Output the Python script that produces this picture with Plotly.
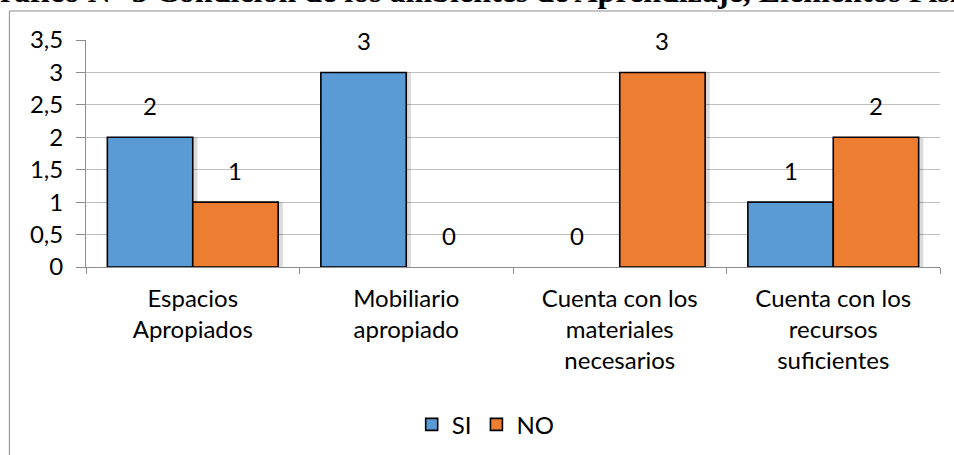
import plotly.graph_objects as go

categories = ["Espacios<br>Apropiados", "Mobiliario<br>apropiado",
              "Cuenta con los<br>materiales<br>necesarios",
              "Cuenta con los<br>recursos<br>suficientes"]
si_values = [2, 3, 0, 1]
no_values = [1, 0, 3, 2]
y_tick_vals = [0, 0.5, 1, 1.5, 2, 2.5, 3, 3.5]
y_tick_text = ["0", "0,5", "1", "1,5", "2", "2,5", "3", "3,5"]
title_text = "Gráfico N° 3 Condición de los ambientes de Aprendizaje, Elementos Físicos"

BLUE = "#5B9BD5"
ORANGE = "#ED7D31"
FONT = "Lato"
FS = 24

def outline(vals):
    return [1.6 if v > 0 else 0 for v in vals]

fig = go.Figure()
# soft shadows
for vals, off in [(si_values, -0.4), (no_values, 0.0)]:
    fig.add_trace(go.Bar(x=categories, y=vals, width=0.4, offset=off + 0.022,
                         marker=dict(color="rgba(0,0,0,0.14)", line=dict(width=0)),
                         showlegend=False, hoverinfo="skip"))
fig.add_trace(go.Bar(name="SI", x=categories, y=si_values, width=0.4, offset=-0.4,
                     marker=dict(color=BLUE, line=dict(color="black", width=outline(si_values)))))
fig.add_trace(go.Bar(name="NO", x=categories, y=no_values, width=0.4, offset=0.0,
                     marker=dict(color=ORANGE, line=dict(color="black", width=outline(no_values)))))

annotations = []
for c, v in zip(categories, si_values):
    annotations.append(dict(x=c, y=v, xref="x", yref="y", text=str(v), showarrow=False,
                            xshift=-42.7, yshift=15, yanchor="bottom",
                            font=dict(family=FONT, size=FS, color="black")))
for c, v in zip(categories, no_values):
    annotations.append(dict(x=c, y=v, xref="x", yref="y", text=str(v), showarrow=False,
                            xshift=42.7, yshift=15, yanchor="bottom",
                            font=dict(family=FONT, size=FS, color="black")))
annotations.append(dict(x=0, y=1.127, xref="paper", yref="paper", text="<b>" + title_text + "</b>",
                        showarrow=False, xanchor="left", yanchor="bottom", xshift=-113,
                        font=dict(family="Liberation Serif", size=32, color="black")))

fig.update_layout(
    width=954, height=455,
    margin=dict(l=86, r=14, t=40, b=188, autoexpand=False),
    paper_bgcolor="white", plot_bgcolor="white",
    barmode="overlay",
    font=dict(family=FONT, size=FS, color="black"),
    showlegend=True,
    legend=dict(orientation="h", x=0.468, xanchor="center", y=-0.695, yanchor="middle",
                font=dict(family=FONT, size=FS), itemwidth=30, tracegroupgap=0,
                traceorder="normal"),
    annotations=annotations,
    shapes=[dict(type="rect", xref="paper", yref="paper", x0=-0.0897, x1=1.5,
                 y0=-2.0, y1=1.1278, line=dict(color="#8c8c8c", width=1),
                 fillcolor="rgba(0,0,0,0)", layer="below")],
)
fig.update_xaxes(type="category", showline=True, linecolor="#8c8c8c", linewidth=1,
                 ticks="outside", ticklen=6, tickcolor="#8c8c8c", tickson="boundaries",
                 showgrid=False, tickangle=0, tickfont=dict(family=FONT, size=FS),
                 ticklabelstandoff=10)
fig.update_yaxes(range=[0, 3.5], tickvals=y_tick_vals, ticktext=y_tick_text,
                 showline=True, linecolor="#8c8c8c", linewidth=1,
                 ticks="outside", ticklen=9, tickcolor="#8c8c8c",
                 showgrid=True, gridcolor="#bfbfbf", gridwidth=1, zeroline=False,
                 tickfont=dict(family=FONT, size=FS), ticklabelstandoff=8)

fig.write_html("out.html", config={"displayModeBar": False},
               post_script="document.body.style.margin='0';document.body.style.overflow='hidden';")
